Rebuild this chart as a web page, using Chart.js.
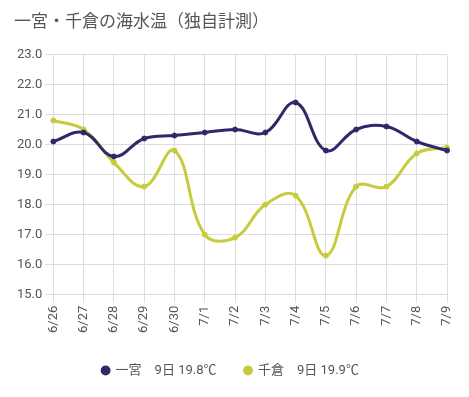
<!DOCTYPE html>
<html><head><meta charset="utf-8">
<script src="https://cdn.jsdelivr.net/npm/chart.js@4"></script>
<style>html,body{margin:0;padding:0;background:#fff}#wrap{width:469px;height:397px}</style>
</head><body><div id="wrap"><canvas id="c"></canvas></div>
<script>
const categories = ['6/26','6/27','6/28','6/29','6/30','7/1','7/2','7/3','7/4','7/5','7/6','7/7','7/8','7/9'];
const ichinomiya = [20.1,20.4,19.6,20.2,20.3,20.4,20.5,20.4,21.4,19.8,20.5,20.6,20.1,19.8];
const chikura = [20.8,20.5,19.4,18.6,19.8,17.0,16.9,18.0,18.3,16.3,18.6,18.6,19.7,19.9];
const seriesLabels = ['一宮　9日 19.8℃','千倉　9日 19.9℃'];
const titleText = '一宮・千倉の海水温（独自計測）';
const F = "'Roboto','Noto Sans CJK JP',sans-serif";
new Chart(document.getElementById('c'), {
  type: 'line',
  data: { labels: categories, datasets: [
    { label: seriesLabels[0], data: ichinomiya, borderColor: '#2d2a6b', backgroundColor: '#2d2a6b', borderWidth: 3, pointRadius: 2.5, pointBorderWidth: 1, tension: 0.4 },
    { label: seriesLabels[1], data: chikura, borderColor: '#c7cc3e', backgroundColor: '#c7cc3e', borderWidth: 3, pointRadius: 2.5, pointBorderWidth: 1, tension: 0.4 }
  ]},
  options: {
    responsive: true, maintainAspectRatio: false, animation: false,
    layout: { padding: { left: 14, right: 22, top: 2, bottom: 10 } },
    plugins: {
      title: { display: true, text: titleText, align: 'start', color: '#555', font: { family: "'Noto Sans CJK JP',sans-serif", size: 17, weight: 'normal' }, padding: { top: 8, bottom: 24 } },
      legend: { position: 'bottom', labels: { usePointStyle: true, pointStyle: 'circle', boxWidth: 7, boxHeight: 7, color: '#555', font: { family: F, size: 13 }, padding: 28,
        generateLabels: (chart) => Chart.defaults.plugins.legend.labels.generateLabels(chart).map(l => Object.assign(l, { lineWidth: 0 })) } },
      tooltip: { enabled: false }
    },
    scales: {
      y: { min: 15, max: 23, ticks: { stepSize: 1, color: '#555', font: { family: F, size: 13 }, callback: v => v.toFixed(1) }, grid: { color: '#ddd' }, border: { color: '#ddd' } },
      x: { ticks: { color: '#555', font: { family: F, size: 13 }, minRotation: 90, maxRotation: 90 }, grid: { color: '#ddd' }, border: { color: '#ddd' } }
    }
  }
});
</script></body></html>
